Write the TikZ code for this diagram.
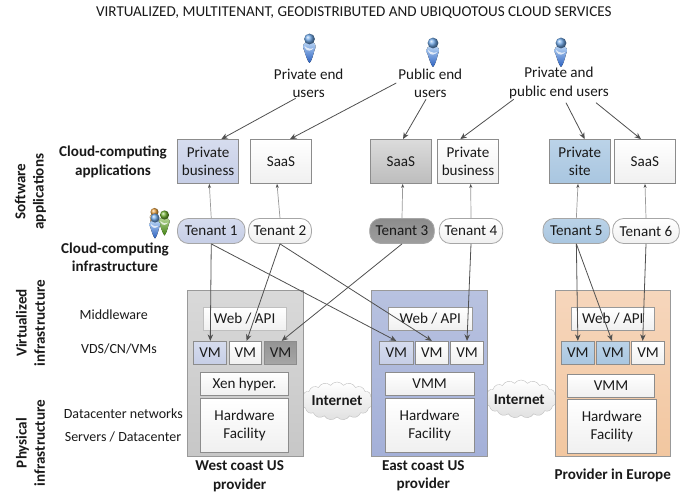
\documentclass[tikz,border=0pt]{standalone}
\usepackage{fontspec}
\setmainfont{Carlito}
\usetikzlibrary{shapes.symbols,arrows.meta,shadings}
\definecolor{edgegray}{HTML}{8C8C8C}
\definecolor{linkgray}{HTML}{505050}
\definecolor{thingray}{HTML}{9A9A9A}
\definecolor{txt}{HTML}{1A1A1A}
\definecolor{lav}{HTML}{C6CEE6}
\definecolor{lavlight}{HTML}{D6DCEE}
\definecolor{sky}{HTML}{A9C6E0}
\definecolor{skylight}{HTML}{BBD3E8}
\definecolor{headblue}{HTML}{6FA8E8}
\definecolor{bodyblue}{HTML}{2A60C0}
\definecolor{headorange}{HTML}{E8A040}
\definecolor{bodyorange}{HTML}{C07820}
\definecolor{headgreen}{HTML}{70B030}
\definecolor{bodygreen}{HTML}{408010}
\definecolor{eastblue}{HTML}{A4B0D8}
\definecolor{eastlight}{HTML}{B8C2E0}
\definecolor{euro}{HTML}{F2C7A0}
\definecolor{eurolight}{HTML}{F6D6BC}
\tikzset{
  x=1pt,y=-1pt,
  every node/.style={text=txt,font=\fontsize{15.1}{18.3}\selectfont},
  boxed/.style={draw=edgegray,line width=0.8pt,inner sep=0pt,align=center,shading=axis},
  whitebox/.style={boxed,top color=white,bottom color=black!6},
  lavbox/.style={boxed,top color=lavlight,bottom color=lav},
  skybox/.style={boxed,top color=skylight,bottom color=sky},
  tenantw/.style={whitebox,rounded corners=11pt,draw=black!35},
  tenantc/.style={boxed,rounded corners=11pt,draw=black!35},
  lbl/.style={align=center,inner sep=0pt},
  bold/.style={lbl,font=\fontsize{15.1}{18.3}\selectfont\bfseries},
  side/.style={lbl,font=\fontsize{14}{18}\selectfont},
  rot/.style={bold,rotate=90},
  provider/.style={boxed,draw=black!40,line width=1pt},
  netcloud/.style={cloud,cloud puffs=17,cloud puff arc=110,aspect=1.9,draw=black!25,top color=white,bottom color=black!12,inner sep=0pt},
  arr/.style={draw=linkgray,line width=0.8pt,-{Stealth[length=6.5pt,width=5.5pt]}},
  thinarr/.style={draw=thingray,line width=0.7pt,-{Stealth[length=4pt,width=3pt,color=linkgray]}},
}
\newcommand{\bx}[7][]{%
  \pgfmathsetmacro{\cxx}{(#3+#5)/2}\pgfmathsetmacro{\cyy}{(#4+#6)/2}%
  \pgfmathsetmacro{\wdd}{#5-#3}\pgfmathsetmacro{\htt}{#6-#4}%
  \node[#1,minimum width=\wdd pt,minimum height=\htt pt] (#2) at (\cxx,\cyy) {#7};}
\newcommand{\person}[5]{% x y scale light dark
  \begin{scope}[shift={(#1,#2)},scale=#3]
    \fill[top color=#4!50,bottom color=#5] (-3,3) .. controls (-7,4) and (-7,9) .. (-5.5,11)
      .. controls (-3.5,17) and (-2,22) .. (0,24) .. controls (2,22) and (3.5,17) .. (5,11)
      .. controls (7,8) and (6,4) .. (3,3) -- cycle;
    \fill[white,opacity=.75] (-5,7) .. controls (-2,10) and (2,10) .. (4,9) .. controls (2,12) and (-2,13) .. (-4.5,9) -- cycle;
    \shade[ball color=#4] (0,0) circle[radius=5.4];
  \end{scope}}
\begin{document}
\begin{tikzpicture}
\useasboundingbox (0,0) rectangle (694,492);
\fill[white] (0,0) rectangle (694,492);
\node[lbl] (title) at (353.8,13) {VIRTUALIZED, MULTITENANT, GEODISTRIBUTED AND UBIQUOTOUS CLOUD SERVICES};

\person{309.5}{39}{1}{headblue}{bodyblue}
\person{433}{43}{1}{headblue}{bodyblue}
\person{561}{43}{1}{headblue}{bodyblue}

\node[lbl] (pe) at (308.7,83) {Private end\\users};
\node[lbl] (pu) at (430.3,83) {Public end\\users};
\node[lbl] (pp) at (559,83) {Private and\\public end users};

% clouds behind the providers
\node[netcloud,minimum width=72pt,minimum height=38pt] (c1) at (337,401) {};
\node[netcloud,minimum width=72pt,minimum height=38pt] (c2) at (521,399) {};

% applications
\bx[lavbox]{pb1}{177.5}{139.5}{238.7}{183.5}{Private\\business}
\bx[whitebox]{sa1}{250.5}{139.5}{311.5}{183.5}{SaaS}
\bx[boxed,top color=black!14,bottom color=black!26]{sa2}{370.3}{139.5}{431.3}{183.5}{SaaS}
\bx[whitebox]{pb2}{437.3}{139.5}{498.7}{183.5}{Private\\business}
\bx[skybox]{ps}{549.3}{139.5}{610.3}{183.5}{Private\\site}
\bx[whitebox]{sa3}{614.3}{139.5}{675.3}{183.5}{SaaS}

% tenants
\bx[tenantc,top color=lavlight,bottom color=lav]{t1}{177.5}{218.5}{245}{243.5}{Tenant 1}
\bx[tenantw]{t2}{248.5}{218.5}{311.5}{243.5}{Tenant 2}
\bx[tenantc,top color=black!45,bottom color=black!38]{t3}{369.7}{218.5}{434.3}{243.5}{Tenant 3}
\bx[tenantw]{t4}{439.3}{218.5}{502.7}{243.5}{Tenant 4}
\bx[tenantc,top color=skylight,bottom color=sky]{t5}{543}{218.5}{609.7}{243.5}{Tenant 5}
\bx[tenantw]{t6}{612.7}{218.5}{679.3}{243.5}{Tenant 6}

% providers
\bx[provider,top color=black!15,bottom color=black!22]{west}{187.3}{290.7}{303.3}{456}{}
\bx[provider,top color=eastlight,bottom color=eastblue]{east}{371.3}{290.7}{487.7}{456}{}
\bx[provider,top color=eurolight,bottom color=euro]{europe}{555}{290.7}{670.7}{456}{}

\bx[whitebox,draw=black!25]{w1}{203.3}{307.3}{286}{330.3}{Web / API}
\bx[whitebox,draw=black!40]{w2}{388.7}{307.3}{472}{330.3}{Web / API}
\bx[whitebox,draw=black!40]{w3}{571.3}{307.3}{654.3}{330.3}{Web / API}

\bx[lavbox]{v1}{193.3}{341.3}{226.7}{364.3}{VM}
\bx[whitebox]{v2}{229}{341.3}{261.7}{364.3}{VM}
\bx[boxed,top color=black!42,bottom color=black!35]{v3}{264.3}{341.3}{296.7}{364.3}{VM}
\bx[lavbox]{v4}{379.3}{341.3}{413.3}{364.3}{VM}
\bx[whitebox]{v5}{415.3}{341.3}{448.3}{364.3}{VM}
\bx[whitebox]{v6}{450.3}{341.3}{483.7}{364.3}{VM}
\bx[skybox]{v7}{561}{341.3}{594.7}{364.3}{VM}
\bx[skybox]{v8}{596.3}{341.3}{629.7}{364.3}{VM}
\bx[whitebox]{v9}{631.3}{341.3}{664.7}{364.3}{VM}

\bx[whitebox]{m1}{200.3}{372.3}{288.7}{395.7}{Xen hyper.}
\bx[whitebox]{h1}{200.3}{398.3}{288.7}{452.7}{Hardware\\Facility}
\bx[whitebox]{m2}{385.3}{372.3}{474}{395.7}{VMM}
\bx[whitebox]{h2}{385.3}{398.3}{474}{452.7}{Hardware\\Facility}
\bx[whitebox]{m3}{567.3}{374.3}{654.7}{397}{VMM}
\bx[whitebox]{h3}{567.3}{399.3}{656.3}{453.7}{Hardware\\Facility}

\node[bold] (i1) at (337,400.5) {Internet};
\node[bold] (i2) at (519.3,400) {Internet};

% left labels
\node[bold] (ccapp) at (113,162) {Cloud-computing\\applications};
\node[bold] (ccinf) at (115,257.5) {Cloud-computing\\infrastructure};
\node[rot] (r1) at (30.5,191.7) {Software\\applications};
\node[rot] (r2) at (30.5,323) {Virtualized\\infrastructure};
\node[rot] (r3) at (30.5,443) {Physical\\infrastructure};
\node[side] (s1) at (113.7,314.3) {Middleware};
\node[side] (s2) at (119,349) {VDS/CN/VMs};
\node[side] (s3) at (123.3,413.7) {Datacenter networks};
\node[side] (s4) at (123,437) {Servers / Datacenter};
\node[bold] (lw) at (239.7,476.3) {West coast US\\provider};
\node[bold] (le) at (423.3,475.7) {East coast US\\provider};
\node[bold] (lu) at (612.7,475.7) {Provider in Europe};

% tenant icon
\person{154.5}{212}{0.75}{headorange}{bodyorange}
\person{164.5}{215}{0.85}{headgreen}{bodygreen}
\person{155}{218}{0.85}{headblue}{bodyblue}

% end users to applications
\draw[arr] ([xshift=-13pt,yshift=-15.3pt]pe.center) -- ([xshift=13.2pt]pb1.north);
\draw[arr] ([xshift=-34pt,yshift=0pt]pu.center) -- ([xshift=9pt]sa1.north);
\draw[arr] ([xshift=-4.3pt,yshift=-16.3pt]pu.center) -- ([xshift=2.2pt]sa2.north);
\draw[arr] ([xshift=-45.3pt,yshift=-16.3pt]pp.center) -- ([xshift=-7.7pt]pb2.north);
\draw[arr] ([xshift=7pt,yshift=-19.7pt]pp.center) -- ([xshift=4.9pt]ps.north);
\draw[arr] ([xshift=37pt,yshift=-19.7pt]pp.center) -- ([xshift=-3.8pt]sa3.north);

% tenants to applications
\draw[thinarr] (t1.north) -- ([xshift=1.2pt]pb1.south);
\draw[thinarr] (t2.north) -- ([xshift=-4pt]sa1.south);
\draw[thinarr] (t3.north) -- ([xshift=1.9pt]sa2.south);
\draw[thinarr] (t4.north) -- ([xshift=2.7pt]pb2.south);
\draw[thinarr] (t5.north) -- ([xshift=-1.8pt]ps.south);
\draw[thinarr] (t6.north) -- ([xshift=.2pt]sa3.south);

% tenants to VMs
\draw[arr] (t1.south) -- ([xshift=.3pt]v1.north);
\draw[arr] (t1.south) -- (v4.north);
\draw[arr] (t2.south) -- ([xshift=1.3pt]v2.north);
\draw[arr] (t2.south) -- (v5.north);
\draw[arr] (t3.south) -- ([xshift=1.2pt]v3.north);
\draw[arr] (t4.south) -- (v6.north);
\draw[arr] (t5.south) -- (v7.north);
\draw[arr] (t5.south) -- ([xshift=-1pt]v8.north);
\draw[arr] (t6.south) -- ([xshift=-5.3pt]v9.north);
\end{tikzpicture}
\end{document}
